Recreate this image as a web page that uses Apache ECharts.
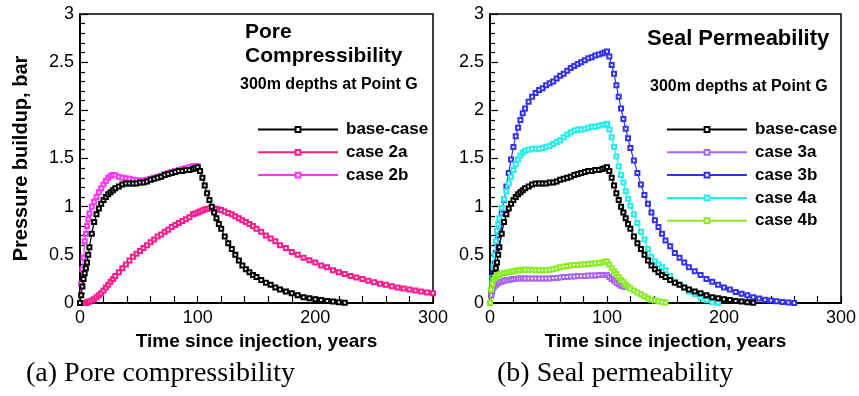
<!DOCTYPE html>
<html>
<head>
<meta charset="utf-8">
<script src="https://cdn.jsdelivr.net/npm/echarts@6/dist/echarts.min.js"></script>
<style>
  html, body { margin: 0; padding: 0; background: #fff; }
  #chart { width: 859px; height: 396px; }
</style>
</head>
<body>
<div id="chart"></div>
<script>
// time since injection (years) - shared by all series
const years = [0, 1, 2, 3, 4, 5, 6, 7, 8, 10,
  12, 14, 16, 18, 20, 22, 24, 26, 28, 30,
  33, 36, 39, 42, 45, 48, 51, 54, 57, 60,
  63, 66, 69, 72, 75, 78, 81, 84, 87, 90,
  93, 96, 98, 100, 102, 104, 106, 108, 110, 112,
  114, 116, 118, 120, 123, 126, 129, 132, 135, 138,
  141, 144, 147, 150, 154, 158, 162, 166, 170, 175,
  180, 185, 190, 195, 200, 205, 210, 215, 220, 225,
  230, 235, 240, 245, 250, 255, 260, 265, 270, 275,
  280, 285, 290, 295, 300]

// pressure buildup, bar (each list runs from t=0 until the curve ends)
const baseCase = [0, 0.08, 0.17, 0.25, 0.31, 0.36, 0.42, 0.5, 0.58, 0.72,
  0.84, 0.92, 0.98, 1.03, 1.07, 1.1, 1.13, 1.15, 1.17, 1.19,
  1.21, 1.23, 1.24, 1.24, 1.24, 1.24, 1.25, 1.25, 1.26, 1.28,
  1.29, 1.3, 1.31, 1.33, 1.34, 1.35, 1.36, 1.37, 1.37, 1.38,
  1.38, 1.39, 1.4, 1.41, 1.37, 1.3, 1.22, 1.14, 1.07, 1.0,
  0.94, 0.88, 0.82, 0.77, 0.69, 0.62, 0.56, 0.5, 0.44, 0.39,
  0.35, 0.32, 0.29, 0.27, 0.24, 0.21, 0.19, 0.16, 0.14, 0.12,
  0.1, 0.08, 0.06, 0.05, 0.04, 0.03, 0.02, 0.015, 0.008, 0.003]

const case2a = [0, 0, 0, 0, 0, 0, 0.005, 0.01, 0.015, 0.025,
  0.04, 0.06, 0.08, 0.1, 0.13, 0.16, 0.19, 0.22, 0.25, 0.28,
  0.32, 0.36, 0.4, 0.44, 0.48, 0.51, 0.54, 0.57, 0.6, 0.63,
  0.66, 0.69, 0.71, 0.74, 0.76, 0.79, 0.81, 0.83, 0.85, 0.87,
  0.89, 0.92, 0.93, 0.94, 0.95, 0.96, 0.97, 0.975, 0.98, 0.98,
  0.98, 0.975, 0.97, 0.965, 0.95, 0.935, 0.92, 0.9, 0.88, 0.86,
  0.84, 0.82, 0.8, 0.77, 0.74, 0.7, 0.67, 0.64, 0.6, 0.57,
  0.53, 0.5, 0.47, 0.445, 0.42, 0.39, 0.37, 0.34, 0.32, 0.3,
  0.28, 0.265, 0.25, 0.23, 0.215, 0.2, 0.19, 0.175, 0.16, 0.15,
  0.14, 0.13, 0.12, 0.11, 0.1]

const case2b = [0, 0.2, 0.35, 0.47, 0.64, 0.72, 0.8, 0.87, 0.93, 1.0,
  1.05, 1.1, 1.15, 1.19, 1.23, 1.27, 1.3, 1.32, 1.33, 1.325,
  1.31, 1.3, 1.295, 1.29, 1.28, 1.275, 1.27, 1.275, 1.28, 1.29,
  1.3, 1.31, 1.32, 1.34, 1.35, 1.36, 1.37, 1.38, 1.39, 1.4,
  1.41, 1.42, 1.42, 1.42]

const case3a = [0, 0.08, 0.13, 0.16, 0.18, 0.19, 0.2, 0.21, 0.215, 0.22,
  0.23, 0.235, 0.24, 0.245, 0.25, 0.25, 0.255, 0.255, 0.255, 0.255,
  0.255, 0.255, 0.255, 0.255, 0.255, 0.255, 0.255, 0.26, 0.26, 0.265,
  0.27, 0.27, 0.275, 0.275, 0.28, 0.28, 0.28, 0.285, 0.285, 0.285,
  0.29, 0.29, 0.29, 0.29, 0.27, 0.25, 0.23, 0.21, 0.195, 0.18,
  0.17, 0.165]

const case3b = [0, 0.1, 0.2, 0.31, 0.41, 0.52, 0.62, 0.7, 0.78, 0.93,
  1.07, 1.21, 1.35, 1.49, 1.62, 1.73, 1.82, 1.9, 1.97, 2.02,
  2.09, 2.14, 2.18, 2.21, 2.23, 2.26, 2.28, 2.3, 2.33, 2.36,
  2.38, 2.41, 2.44, 2.46, 2.48, 2.5, 2.52, 2.54, 2.55, 2.57,
  2.58, 2.59, 2.6, 2.61, 2.56, 2.47, 2.38, 2.26, 2.14, 2.02,
  1.91, 1.81, 1.71, 1.61, 1.48, 1.35, 1.23, 1.12, 1.03, 0.94,
  0.86, 0.79, 0.72, 0.65, 0.59, 0.52, 0.47, 0.42, 0.37, 0.33,
  0.29, 0.25, 0.22, 0.19, 0.16, 0.14, 0.115, 0.095, 0.08, 0.06,
  0.047, 0.035, 0.025, 0.017, 0.01, 0.005, 0.001]

const case4a = [0, 0.13, 0.26, 0.38, 0.5, 0.64, 0.75, 0.82, 0.88, 0.99,
  1.08, 1.16, 1.24, 1.31, 1.38, 1.44, 1.49, 1.53, 1.56, 1.58,
  1.59, 1.6, 1.6, 1.6, 1.61, 1.62, 1.63, 1.65, 1.67, 1.69,
  1.72, 1.75, 1.77, 1.79, 1.8, 1.8, 1.81, 1.82, 1.83, 1.83,
  1.84, 1.85, 1.85, 1.86, 1.8, 1.72, 1.62, 1.52, 1.42, 1.33,
  1.25, 1.16, 1.08, 1.01, 0.92, 0.83, 0.74, 0.66, 0.56, 0.48,
  0.43, 0.4, 0.37, 0.34, 0.28, 0.22, 0.19, 0.16, 0.12, 0.09,
  0.055, 0.03, 0.008, 0]

const case4b = [0, 0.14, 0.2, 0.24, 0.26, 0.27, 0.28, 0.29, 0.295, 0.305,
  0.31, 0.315, 0.32, 0.325, 0.33, 0.335, 0.34, 0.34, 0.345, 0.345,
  0.345, 0.345, 0.34, 0.34, 0.34, 0.34, 0.345, 0.35, 0.36, 0.37,
  0.38, 0.385, 0.39, 0.395, 0.395, 0.4, 0.4, 0.405, 0.41, 0.41,
  0.415, 0.42, 0.43, 0.43, 0.4, 0.36, 0.33, 0.3, 0.27, 0.24,
  0.22, 0.19, 0.17, 0.15, 0.13, 0.11, 0.09, 0.07, 0.05, 0.035,
  0.025, 0.017, 0.01, 0.005]

const xTicks = [0, 100, 200, 300]
const yTicks = [0, 0.5, 1, 1.5, 2, 2.5, 3]

const sans = 'Liberation Sans, Arial, sans-serif'
const serif = 'Liberation Serif, Times New Roman, serif'

// pair values with years
function pairs(vals) {
  let out = []
  for (var i = 0; i < vals.length; i++) {
    out.push([years[i], vals[i]])
  }
  return out
}

function line(name, vals, color, idx, z) {
  return {
    name: name,
    type: 'line',
    xAxisIndex: idx,
    yAxisIndex: idx,
    data: pairs(vals),
    symbol: 'emptyRect',
    symbolSize: 4,
    showAllSymbol: true,
    z: z,
    lineStyle: { color: color, width: 1.2 },
    itemStyle: { color: color, borderWidth: 1 },
    animation: false,
  }
}

function xAxis(idx) {
  return {
    type: 'value',
    gridIndex: idx,
    min: 0,
    max: 300,
    interval: 100,
    name: 'Time since injection, years',
    nameLocation: 'middle',
    nameGap: 23,
    nameTextStyle: { color: '#000', fontSize: 19, fontWeight: 'bold', fontFamily: sans },
    axisLine: { lineStyle: { color: '#000', width: 2 } },
    axisTick: { inside: true, length: 7, lineStyle: { color: '#000', width: 1.2 } },
    minorTick: { show: true, splitNumber: 5, length: 7, lineStyle: { color: '#000', width: 1.2 } },
    axisLabel: {
      color: '#000', fontSize: 18, fontFamily: sans, margin: 6,
      formatter: v => (xTicks.indexOf(v) >= 0 ? String(v) : ''),
    },
    splitLine: { show: false },
  }
}

function yAxis(idx, title) {
  return {
    type: 'value',
    gridIndex: idx,
    min: 0,
    max: 3,
    interval: 0.5,
    name: title,
    nameLocation: 'middle',
    nameGap: 49,
    nameTextStyle: { color: '#000', fontSize: 20, fontWeight: 'bold', fontFamily: sans },
    axisLine: { lineStyle: { color: '#000', width: 2 } },
    axisTick: { inside: true, length: 8, lineStyle: { color: '#000', width: 1.2 } },
    minorTick: { show: true, splitNumber: 5, length: 5, lineStyle: { color: '#000', width: 1.2 } },
    axisLabel: {
      color: '#000', fontSize: 18, fontFamily: sans, margin: 6,
      formatter: v => (yTicks.indexOf(v) >= 0 ? String(v) : ''),
    },
    splitLine: { show: false },
  }
}

function legend(left, names) {
  return {
    left: left,
    top: 116,
    orient: 'vertical',
    itemWidth: 80,
    itemHeight: 6,
    itemGap: 5.8,
    data: names,
    selectedMode: false,
    textStyle: { color: '#000', fontSize: 17, fontWeight: 'bold', fontFamily: sans, padding: [0, 0, 0, 3] },
  }
}

const chart = echarts.init(document.getElementById('chart'))
chart.setOption({
  backgroundColor: '#fff',
  animation: false,
  title: [
    { text: 'Pore\nCompressibility', left: 245, top: 20, padding: 0,
      textStyle: { fontSize: 21, fontWeight: 'bold', fontFamily: sans, color: '#000', lineHeight: 24 } },
    { text: '300m depths at Point G', left: 240, top: 77, padding: 0,
      textStyle: { fontSize: 16, fontWeight: 'bold', fontFamily: sans, color: '#000' } },
    { text: 'Seal Permeability', left: 647, top: 28, padding: 0,
      textStyle: { fontSize: 22, fontWeight: 'bold', fontFamily: sans, color: '#000' } },
    { text: '300m depths at Point G', left: 650, top: 79, padding: 0,
      textStyle: { fontSize: 16, fontWeight: 'bold', fontFamily: sans, color: '#000' } },
    { text: '(a) Pore compressibility', left: 26, top: 360, padding: 0,
      textStyle: { fontSize: 28, fontWeight: 'normal', fontFamily: serif, color: '#000' } },
    { text: '(b) Seal permeability', left: 497, top: 360, padding: 0,
      textStyle: { fontSize: 28, fontWeight: 'normal', fontFamily: serif, color: '#000' } },
  ],
  legend: [
    legend(252, ['base-case', 'case 2a', 'case 2b']),
    legend(661, ['base-case', 'case 3a', 'case 3b', 'case 4a', 'case 4b']),
  ],
  grid: [
    { left: 80, top: 14, width: 353, height: 289, show: true, borderColor: '#000', borderWidth: 1.5 },
    { left: 490, top: 14, width: 352, height: 289, show: true, borderColor: '#000', borderWidth: 1.5 },
  ],
  xAxis: [xAxis(0), xAxis(1)],
  yAxis: [yAxis(0, 'Pressure buildup, bar'), yAxis(1, '')],
  series: [
    line('case 2a', case2a, '#FF1A8C', 0, 2),
    line('case 2b', case2b, '#FF33FF', 0, 3),
    line('base-case', baseCase, '#000000', 0, 4),
    line('case 3b', case3b, '#3333EE', 1, 2),
    line('case 4a', case4a, '#22EEEE', 1, 3),
    line('base-case', baseCase, '#000000', 1, 4),
    line('case 3a', case3a, '#A966F0', 1, 5),
    line('case 4b', case4b, '#88EE22', 1, 6),
  ],
})
</script>
</body>
</html>
